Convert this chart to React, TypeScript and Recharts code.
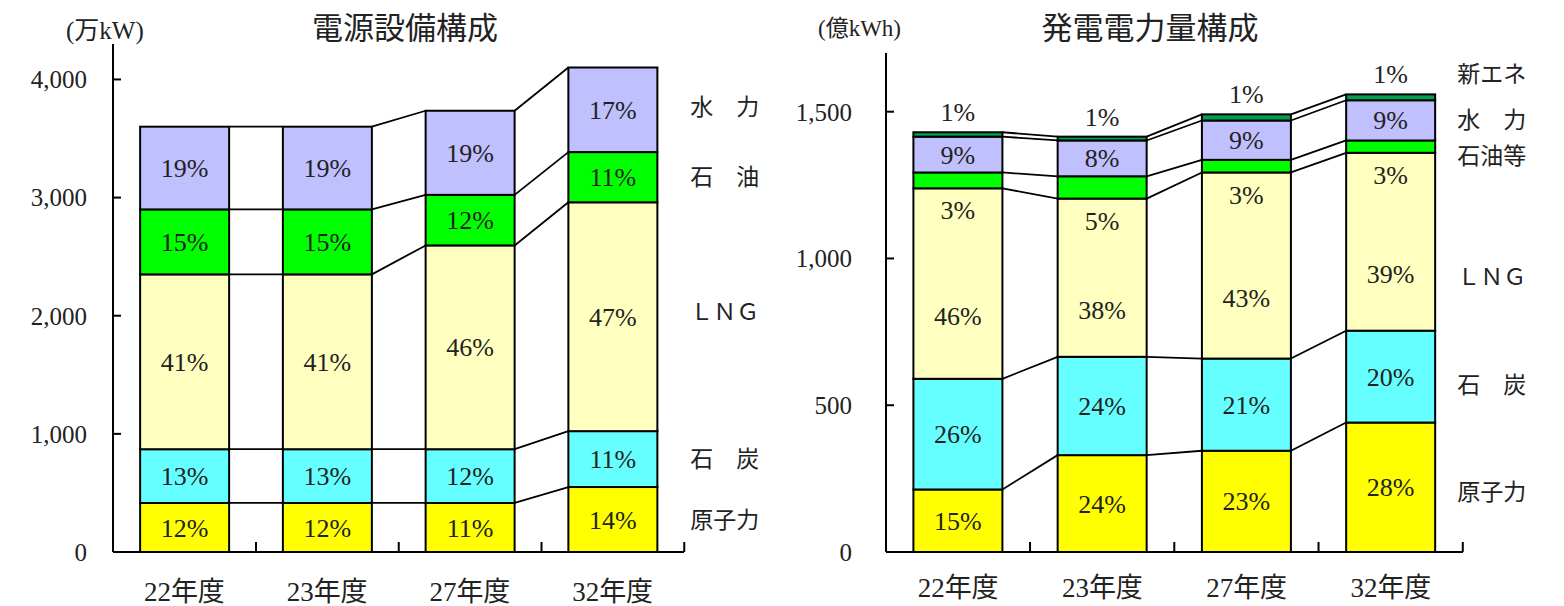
import React from 'react';
import { Bar, BarChart, XAxis, YAxis } from 'recharts';

const FONT = '"Liberation Serif", "Noto Sans CJK JP", serif';

const years = ['22年度', '23年度', '27年度', '32年度'];

// 電源設備構成 (万kW)
const capNuclear = [415, 415, 415, 550];
const capCoal = [455, 455, 455, 473];
const capLng = [1480, 1480, 1725, 1937];
const capOil = [550, 550, 428, 425];
const capHydro = [700, 700, 712, 716];

const capNuclearPct = ['12%', '12%', '11%', '14%'];
const capCoalPct = ['13%', '13%', '12%', '11%'];
const capLngPct = ['41%', '41%', '46%', '47%'];
const capOilPct = ['15%', '15%', '12%', '11%'];
const capHydroPct = ['19%', '19%', '19%', '17%'];
const capTicks = [0, 1000, 2000, 3000, 4000];

// 発電電力量構成 (億kWh)
const genNuclear = [213, 330, 345, 441];
const genCoal = [377, 335, 314, 313];
const genLng = [649, 539, 634, 606];
const genOil = [54, 76, 43, 42];
const genHydro = [122, 122, 134, 137];
const genNew = [15, 13, 21, 20];

const genNuclearPct = ['15%', '24%', '23%', '28%'];
const genCoalPct = ['26%', '24%', '21%', '20%'];
const genLngPct = ['46%', '38%', '43%', '39%'];
const genOilPct = ['3%', '5%', '3%', '3%'];
const genHydroPct = ['9%', '8%', '9%', '9%'];
const genNewPct = ['1%', '1%', '1%', '1%'];
const genTicks = [0, 500, 1000, 1500];

type Series = {
  key: string;
  name: string;
  values: number[];
  pct: string[];
  color: string;
  labelAt?: 'mid' | 'below' | 'above';
  labelDy?: number;
  nameDy?: number;
};

const capSeries: Series[] = [
  { key: 'nuclear', name: '原子力', values: capNuclear, pct: capNuclearPct, color: '#FFFF00' },
  { key: 'coal', name: '石　炭', values: capCoal, pct: capCoalPct, color: '#66FFFF' },
  { key: 'lng', name: 'ＬＮＧ', values: capLng, pct: capLngPct, color: '#FFFFC0', nameDy: -5 },
  { key: 'oil', name: '石　油', values: capOil, pct: capOilPct, color: '#00FF00' },
  { key: 'hydro', name: '水　力', values: capHydro, pct: capHydroPct, color: '#C0C0FF', nameDy: -3 },
];

const genSeries: Series[] = [
  { key: 'nuclear', name: '原子力', values: genNuclear, pct: genNuclearPct, color: '#FFFF00', nameDy: 5 },
  { key: 'coal', name: '石　炭', values: genCoal, pct: genCoalPct, color: '#66FFFF', nameDy: 8 },
  { key: 'lng', name: 'ＬＮＧ', values: genLng, pct: genLngPct, color: '#FFFFC0', labelDy: 32, nameDy: 35 },
  { key: 'oil', name: '石油等', values: genOil, pct: genOilPct, color: '#00FF00', labelAt: 'below', nameDy: 9 },
  { key: 'hydro', name: '水　力', values: genHydro, pct: genHydroPct, color: '#C0C0FF' },
  { key: 'newEnergy', name: '新エネ', values: genNew, pct: genNewPct, color: '#00A050', labelAt: 'above', nameDy: -23 },
];

type ChartProps = {
  series: Series[];
  ticks: number[];
  max: number;
  width: number;
  height: number;
  axisW: number;
  right: number;
  top: number;
  yTickMargin: number;
  xTickMargin: number;
  nameGap: number;
};

function StackChart({ series, ticks, max, width, height, axisW, right, top, yTickMargin, xTickMargin, nameGap }: ChartProps) {
  const data = years.map((name, i) => {
    const row: Record<string, any> = { name };
    series.forEach((s) => (row[s.key] = s.values[i]));
    return row;
  });
  const step = (width - axisW - right) / years.length;
  const below = (k: number, i: number) => series.slice(0, k).reduce((sum, s) => sum + s.values[i], 0);

  const makeShape = (s: Series, k: number) => (props: any) => {
    const { x, y, width: w, height: h, index } = props;
    const v = s.values[index];
    const ppu = h / v;
    const base = y + h + below(k, index) * ppu;
    let ly = y + h / 2 + (s.labelDy || 0);
    if (s.labelAt === 'below') ly = y + h + 22;
    if (s.labelAt === 'above') ly = y - 20;
    const last = index === years.length - 1;
    let link = null;
    if (!last) {
      const nextTop = base - (below(k, index + 1) + s.values[index + 1]) * ppu;
      link = <line x1={x + w} y1={y} x2={x + step} y2={nextTop} stroke="#000" strokeWidth={1.8} />;
    }
    // small upward tick on the right boundary of the category band
    const edge = x + w / 2 + step / 2;
    return (
      <g>
        <rect x={x} y={y} width={w} height={h} fill={s.color} stroke="#000" strokeWidth={2} />
        {link}
        {k === 0 && <line x1={edge} y1={base} x2={edge} y2={base - 10} stroke="#000" strokeWidth={2} />}
        <text x={x + w / 2} y={ly} dy="0.35em" textAnchor="middle" fontSize={26} fontFamily={FONT} fill="#222">
          {s.pct[index]}
        </text>
        {last && (
          <text x={x + w + nameGap} y={y + h / 2 + (s.nameDy || 0)} dy="0.35em" textAnchor="start" fontSize={23} fontFamily={FONT} fill="#222">
            {s.name}
          </text>
        )}
      </g>
    );
  };

  return (
    <BarChart width={width} height={height} data={data} margin={{ top, right, bottom: 0, left: 0 }} barCategoryGap="19%">
      <XAxis
        dataKey="name"
        height={height - 552}
        interval={0}
        tickLine={false}
        tickSize={0}
        tickMargin={xTickMargin}
        axisLine={{ stroke: '#000', strokeWidth: 2 }}
        tick={{ fill: '#222', fontSize: 27, fontFamily: FONT }}
      />
      <YAxis
        type="number"
        domain={[0, max]}
        ticks={ticks}
        width={axisW}
        tickSize={-8}
        tickMargin={yTickMargin}
        axisLine={{ stroke: '#000', strokeWidth: 2 }}
        tickLine={{ stroke: '#000', strokeWidth: 2 }}
        tick={{ fill: '#222', fontSize: 25, fontFamily: FONT }}
        tickFormatter={(v: number) => v.toLocaleString('en-US')}
      />
      {series.map((s, k) => (
        <Bar key={s.key} dataKey={s.key} stackId="a" fill={s.color} isAnimationActive={false} shape={makeShape(s, k)} />
      ))}
    </BarChart>
  );
}

const label = (text: string, cx: number, cy: number, size: number, align: 'center' | 'left' = 'center') => (
  <div
    style={{
      position: 'absolute',
      left: align === 'center' ? cx - 200 : cx,
      width: align === 'center' ? 400 : 'auto',
      top: cy - size / 2,
      fontSize: size,
      lineHeight: `${size}px`,
      textAlign: align,
      color: '#222',
      whiteSpace: 'nowrap',
    }}
  >
    {text}
  </div>
);

export default function App() {
  return (
    <div style={{ position: 'absolute', left: 0, top: 0, width: 1564, height: 606, background: '#fff', fontFamily: FONT }}>
      <div style={{ position: 'absolute', left: 0, top: 0 }}>
        <StackChart
          series={capSeries}
          ticks={capTicks}
          max={4300}
          width={782}
          height={606}
          axisW={113}
          right={98}
          top={44}
          yTickMargin={34}
          xTickMargin={30}
          nameGap={33}
        />
      </div>
      <div style={{ position: 'absolute', left: 782, top: 0 }}>
        <StackChart
          series={genSeries}
          ticks={genTicks}
          max={1700}
          width={782}
          height={606}
          axisW={104}
          right={101}
          top={53}
          yTickMargin={42}
          xTickMargin={26}
          nameGap={22}
        />
      </div>
      {label('(万kW)', 66, 30, 25, 'left')}
      {label('電源設備構成', 405, 28, 31)}
      {label('(億kWh)', 818, 28, 23, 'left')}
      {label('発電電力量構成', 1150, 28, 31)}
    </div>
  );
}
